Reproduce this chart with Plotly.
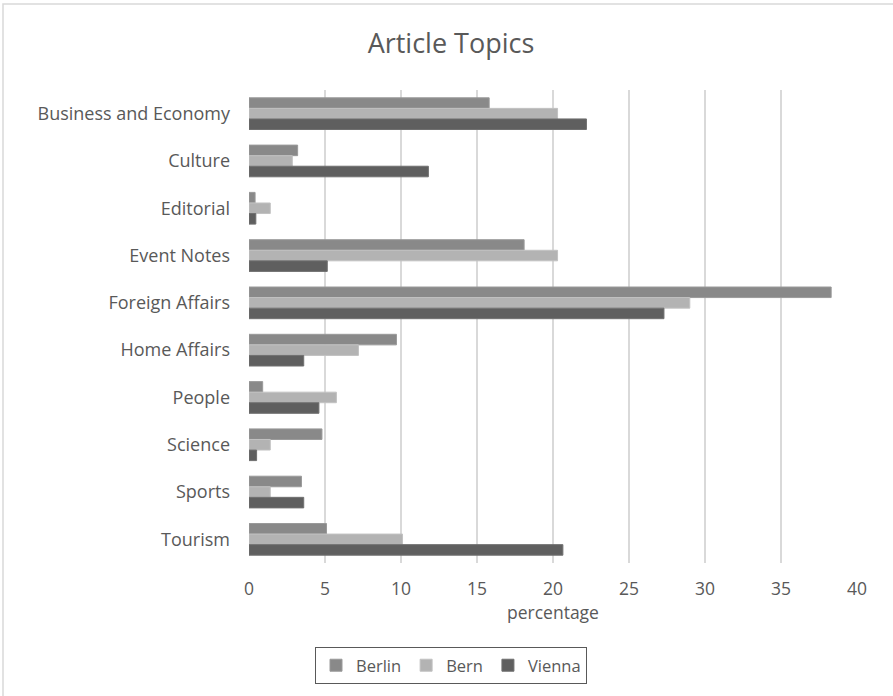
import plotly.graph_objects as go

categories = ["Business and Economy", "Culture", "Editorial", "Event Notes", "Foreign Affairs",
              "Home Affairs", "People", "Science", "Sports", "Tourism"]
berlin = [15.8, 3.2, 0.4, 18.1, 38.3, 9.7, 0.9, 4.8, 3.45, 5.1]
bern = [20.3, 2.85, 1.4, 20.3, 29.0, 7.2, 5.75, 1.4, 1.4, 10.1]
vienna = [22.2, 11.8, 0.45, 5.15, 27.3, 3.6, 4.6, 0.5, 3.6, 20.65]
series = [("Berlin", berlin, "#898989", "#9a9a9a"),
          ("Bern", bern, "#b3b3b3", "#c2c2c2"),
          ("Vienna", vienna, "#5f5f5f", "#707070")]
x_ticks = [0, 5, 10, 15, 20, 25, 30, 35, 40]

W, H = 893, 696
L, R, T, B = 249, 36, 90, 133
pw, ph = W - L - R, H - T - B

fig = go.Figure()
for name, vals, col, edge in series:
    fig.add_trace(go.Bar(y=categories, x=vals, name=name, orientation="h",
                         marker=dict(color=col, line=dict(color=edge, width=1))))

font = "Open Sans, Liberation Sans, sans-serif"
fig.update_layout(
    width=W, height=H,
    margin=dict(l=L, r=R, t=T, b=B),
    paper_bgcolor="white", plot_bgcolor="white",
    barmode="group", bargap=0.33, bargroupgap=0,
    title=dict(text="Article Topics", x=(451) / W, xanchor="center",
               y=1 - 44 / H, yanchor="middle",
               font=dict(family=font, size=27, color="#595959")),
    font=dict(family=font, size=18, color="#595959"),
    xaxis=dict(range=[0, 40], tickvals=x_ticks, showgrid=True, gridcolor="#d9d9d9",
               gridwidth=1.5, zeroline=False, showline=False, ticks="",
               ticklabelstandoff=13,
               tickfont=dict(size=17.5, color="#595959"),
               title=dict(text="percentage", standoff=3,
                          font=dict(size=17.5, color="#595959"))),
    yaxis=dict(autorange="reversed", showgrid=False, zeroline=False, showline=False,
               ticks="", ticklabelstandoff=18,
               tickfont=dict(size=18, color="#595959")),
    legend=dict(orientation="h", x=(451 - L) / pw, xanchor="center",
                y=-(647 - (T + ph)) / ph, yanchor="top",
                bordercolor="#595959", borderwidth=1,
                font=dict(size=16.5, color="#595959"), traceorder="normal",
                itemwidth=30, tracegroupgap=0),
    shapes=[dict(type="rect", xref="paper", yref="paper",
                 x0=(3 - L) / pw, x1=(W + 5 - L) / pw,
                 y0=-(H + 5 - (T + ph)) / ph, y1=1 + (T - 4) / ph,
                 line=dict(color="#d9d9d9", width=1.5))],
)

fig.write_html("out.html")
